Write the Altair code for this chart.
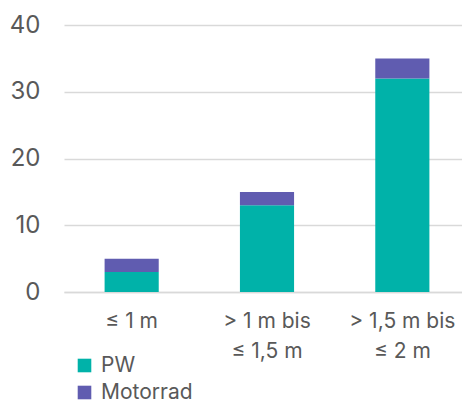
import altair as alt
import pandas as pd

categories = ["≤ 1 m", "> 1 m bis|≤ 1,5 m", "> 1,5 m bis|≤ 2 m"]
series = ["PW", "Motorrad"]
pw_values = [3, 13, 32]
motorrad_values = [2, 2, 3]
colors = ["#00B2A9", "#605CB0"]

rows = []
for c, v in zip(categories, pw_values):
    rows.append({"cat": c, "series": "PW", "value": v, "order": 0})
for c, v in zip(categories, motorrad_values):
    rows.append({"cat": c, "series": "Motorrad", "value": v, "order": 1})
df = pd.DataFrame(rows)

FONT = "Inter"
GRAY = "#595959"

chart = alt.Chart(df).mark_bar().encode(
    x=alt.X("cat:N", sort=categories, title=None,
            scale=alt.Scale(paddingInner=0.6, paddingOuter=0.3, range=[0, 406]),
            axis=alt.Axis(labelExpr="split(datum.label, '|')", labelAngle=0,
                          labelFontSize=21, labelColor=GRAY, labelFont=FONT,
                          labelPadding=18, labelLineHeight=30, ticks=False,
                          domainColor="#d9d9d9", domainWidth=1.5, labelBaseline="top")),
    y=alt.Y("value:Q", stack="zero", title=None,
            scale=alt.Scale(domain=[0, 40]),
            axis=alt.Axis(values=[0, 10, 20, 30, 40], labelFontSize=24, labelColor=GRAY,
                          labelFont=FONT, ticks=False, domain=False, labelPadding=24,
                          gridColor="#d9d9d9", gridWidth=1.5)),
    color=alt.Color("series:N", sort=series,
                    scale=alt.Scale(domain=series, range=colors),
                    legend=alt.Legend(title=None, orient="none", legendX=10, legendY=330,
                                      direction="vertical", symbolType="square",
                                      symbolSize=185, symbolStrokeWidth=0,
                                      labelFontSize=21, labelColor=GRAY, labelFont=FONT,
                                      rowPadding=5, labelOffset=6)),
    order=alt.Order("order:Q"),
).properties(
    width=398, height=267,
    autosize=alt.AutoSizeParams(type="none"),
    padding={"left": 56, "top": 17, "right": 0, "bottom": 110},
).configure_view(stroke=None)

chart.save("out.html", embed_options={"renderer": "svg", "actions": False})
